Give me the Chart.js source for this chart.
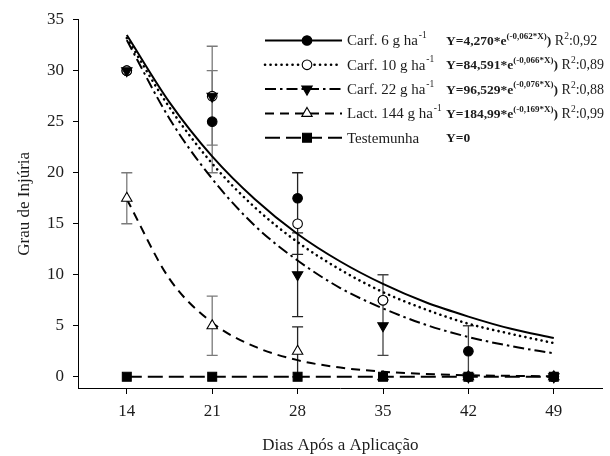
<!DOCTYPE html>
<html><head><meta charset="utf-8">
<script src="https://cdn.jsdelivr.net/npm/chart.js@4/dist/chart.umd.min.js"></script>
<style>html,body{margin:0;padding:0;background:#fff}#wrap{width:610px;height:456px;position:relative}</style>
</head><body><div id="wrap"><canvas id="c"></canvas></div>
<script>
// ---- data ----
const days = [14, 21, 28, 35, 42, 49];
const carf6 = [30, 25, 17.5, 7.5, 2.5, 0];
const carf10 = [30, 27.5, 15, 7.5, 0, 0];
const carf22 = [30, 27.5, 10, 5, 0, 0];
const lact144 = [17.5, 5, 2.5, 0, 0, 0];
const testemunha = [0, 0, 0, 0, 0, 0];

// fitted curves, values
const fitDays = [14, 17.5, 21, 24.5, 28, 31.5, 35, 38.5, 42, 45.5, 49];
const fitCarf6 = [33.5, 26.9, 21.6, 17.4, 14.0, 11.3, 9.1, 7.3, 5.9, 4.7, 3.8];
const fitCarf10 = [33.2, 26.4, 20.9, 16.6, 13.2, 10.5, 8.3, 6.6, 5.2, 4.2, 3.3];
const fitCarf22 = [33.0, 25.3, 19.4, 14.8, 11.4, 8.7, 6.7, 5.1, 3.9, 3.0, 2.3];
const fitLact144 = [17.4, 9.6, 5.3, 2.95, 1.63, 0.9, 0.5, 0.28, 0.15, 0.09, 0.05];
const fitTestemunha = [0, 0, 0, 0, 0, 0, 0, 0, 0, 0, 0];

// error bars
const errDays = [14, 21, 21, 21, 28, 28, 28, 35, 42];
const errLow = [15, 22.7, 20, 2.1, 12, 5.9, 0, 2.1, 0];
const errHigh = [20, 32.4, 30, 7.9, 20, 14.1, 4.9, 10, 5];

const xTicks = [14, 21, 28, 35, 42, 49];
const yTicks = [0, 5, 10, 15, 20, 25, 30, 35];

const seriesNames = ['Carf. 6 g ha', 'Carf. 10 g ha', 'Carf. 22 g ha', 'Lact. 144 g ha', 'Testemunha'];
const seriesSup = ['-1', '-1', '-1', '-1', ''];
const eqMain = ['Y=4,270*e', 'Y=84,591*e', 'Y=96,529*e', 'Y=184,99*e', 'Y=0'];
const eqExp = ['(-0,062*X)', '(-0,066*X)', '(-0,076*X)', '(-0,169*X)', ''];
const eqR2 = ['0,92', '0,89', '0,88', '0,99', ''];

// ---- styles ----
const SERIF = '"Liberation Serif", "Times New Roman", serif';
const TXT = '#1c1c1c';
const errColors = ['#7a7a7a', '#7a7a7a', '#7a7a7a', '#7a7a7a', '#222', '#222', '#222', '#444', '#444'];
const styles = [
  {dash: [], width: 2, cap: 'butt', marker: 'circle', fill: '#000', rot: 0, r: 4.8},
  {dash: [0.1, 5.4], width: 2.6, cap: 'round', marker: 'circle', fill: '#fff', rot: 0, r: 4.8},
  {dash: [11, 4, 2.5, 4], width: 2, cap: 'butt', marker: 'triangle', fill: '#000', rot: 180, r: 6},
  {dash: [9, 6], width: 2, cap: 'butt', marker: 'triangle', fill: '#fff', rot: 0, r: 6},
  {dash: [15, 6], width: 2, cap: 'butt', marker: 'rect', fill: '#000', rot: 0, r: 6.3},
];
const obsSeries = [carf6, carf10, carf22, lact144, testemunha];
const fitSeries = [fitCarf6, fitCarf10, fitCarf22, fitLact144, fitTestemunha];
// marker stacking: first listed is drawn on top
const markerOrder = [4, 2, 3, 1, 0];

const pts = (xs, ys) => xs.map((x, i) => ({x: x, y: ys[i]}));

const datasets = [];
markerOrder.forEach(i => {
  const st = styles[i];
  datasets.push({
    label: seriesNames[i], data: pts(days, obsSeries[i]), showLine: false,
    pointStyle: st.marker, pointRotation: st.rot, pointRadius: st.r,
    pointBackgroundColor: st.fill, pointBorderColor: '#000', pointBorderWidth: 1.1
  });
});
fitSeries.forEach((s, i) => {
  const st = styles[i];
  datasets.push({
    label: seriesNames[i] + ' ajuste', data: pts(fitDays, s),
    borderColor: '#000', borderWidth: st.width, borderDash: st.dash,
    borderCapStyle: st.cap,
    pointRadius: 0, cubicInterpolationMode: 'monotone', fill: false
  });
});

const errorBars = {
  id: 'errorBars',
  beforeDatasetsDraw(chart) {
    const ctx = chart.ctx, xs = chart.scales.x, ys = chart.scales.y;
    ctx.save();
    ctx.lineWidth = 1.3;
    errDays.forEach((d, i) => {
      const x = xs.getPixelForValue(d);
      const y1 = ys.getPixelForValue(errLow[i]);
      const y2 = ys.getPixelForValue(errHigh[i]);
      ctx.strokeStyle = errColors[i];
      ctx.beginPath();
      ctx.moveTo(x, y1); ctx.lineTo(x, y2);
      ctx.moveTo(x - 5.5, y1); ctx.lineTo(x + 5.5, y1);
      ctx.moveTo(x - 5.5, y2); ctx.lineTo(x + 5.5, y2);
      ctx.stroke();
    });
    ctx.restore();
  }
};

function drawMarker(ctx, st, x, y) {
  ctx.save();
  ctx.fillStyle = st.fill; ctx.strokeStyle = '#000'; ctx.lineWidth = 1.1;
  ctx.setLineDash([]);
  ctx.beginPath();
  if (st.marker === 'circle') {
    ctx.arc(x, y, st.r, 0, Math.PI * 2);
  } else if (st.marker === 'rect') {
    const h = st.r * Math.SQRT1_2;
    ctx.rect(x - h, y - h, 2 * h, 2 * h);
  } else {
    const r = st.r, down = st.rot === 180 ? -1 : 1;
    const a = [-Math.PI / 2, Math.PI / 6, 5 * Math.PI / 6];
    a.forEach((t, k) => {
      const px = x + Math.cos(t) * r, py = y + Math.sin(t) * r * down;
      if (k === 0) ctx.moveTo(px, py); else ctx.lineTo(px, py);
    });
    ctx.closePath();
  }
  ctx.fill(); ctx.stroke();
  ctx.restore();
}

const legendPlugin = {
  id: 'customLegend',
  afterDraw(chart) {
    const ctx = chart.ctx;
    ctx.save();
    ctx.fillStyle = '#fff';
    ctx.fillRect(262, 28, 346, 122);
    const rowY0 = 40.5, rowStep = 24.3;
    seriesNames.forEach((name, i) => {
      const y = rowY0 + i * rowStep;
      const st = styles[i];
      ctx.strokeStyle = '#000';
      ctx.lineWidth = st.width;
      ctx.setLineDash(st.dash);
      ctx.lineCap = st.cap;
      ctx.beginPath(); ctx.moveTo(265, y); ctx.lineTo(342, y); ctx.stroke();
      ctx.setLineDash([]);
      drawMarker(ctx, st, 307, y);
      ctx.fillStyle = TXT;
      ctx.textBaseline = 'middle';
      ctx.textAlign = 'left';
      let x = 347;
      ctx.font = '15px ' + SERIF;
      ctx.fillText(name, x, y + 1);
      x += ctx.measureText(name).width;
      if (seriesSup[i]) {
        ctx.font = '9.5px ' + SERIF;
        ctx.fillText(seriesSup[i], x + 1, y - 5);
      }
      x = 446;
      ctx.font = 'bold 13.5px ' + SERIF;
      ctx.fillText(eqMain[i], x, y + 1);
      x += ctx.measureText(eqMain[i]).width;
      if (eqExp[i]) {
        ctx.font = 'bold 9px ' + SERIF;
        ctx.fillText(eqExp[i], x, y - 4);
        x += ctx.measureText(eqExp[i]).width;
        ctx.font = 'bold 13.5px ' + SERIF;
        ctx.fillText(')', x, y + 1);
        x += ctx.measureText(')').width;
        ctx.font = '14px ' + SERIF;
        ctx.fillText(' R', x, y + 1);
        x += ctx.measureText(' R').width;
        ctx.font = '9.5px ' + SERIF;
        ctx.fillText('2', x, y - 4);
        x += ctx.measureText('2').width;
        ctx.font = '14px ' + SERIF;
        ctx.fillText(':' + eqR2[i], x, y + 1);
      }
    });
    ctx.restore();
  }
};

const tickFont = {family: SERIF, size: 17};
new Chart(document.getElementById('c'), {
  type: 'line',
  data: {datasets: datasets},
  options: {
    responsive: true, maintainAspectRatio: false, animation: false,
    layout: {padding: {left: 0, right: 3, top: 19.7, bottom: 0}},
    plugins: {legend: {display: false}, tooltip: {enabled: false}},
    scales: {
      x: {
        type: 'linear', min: 10, max: 53,
        afterBuildTicks: a => { a.ticks = xTicks.map(v => ({value: v})); },
        afterFit: s => { s.height = 68; },
        ticks: {font: tickFont, color: TXT, padding: 7, maxRotation: 0, autoSkip: false},
        grid: {display: true, drawOnChartArea: false, drawTicks: true, tickLength: 6, color: '#000', lineWidth: 1},
        border: {display: true, color: '#000', width: 1},
        title: {display: true, text: 'Dias Após a Aplicação', font: {family: SERIF, size: 17}, color: TXT, padding: {top: 0, bottom: 0}}
      },
      y: {
        type: 'linear', min: -1.1, max: 35,
        afterBuildTicks: a => { a.ticks = yTicks.map(v => ({value: v})); },
        afterFit: s => { s.width = 78; },
        ticks: {font: tickFont, color: TXT, padding: 9},
        grid: {display: true, drawOnChartArea: false, drawTicks: true, tickLength: 5, color: '#000', lineWidth: 1},
        border: {display: true, color: '#000', width: 1},
        title: {display: true, text: 'Grau de Injúria', font: {family: SERIF, size: 17}, color: TXT, padding: {top: 14, bottom: 0}}
      }
    }
  },
  plugins: [errorBars, legendPlugin]
});
</script>
</body></html>
